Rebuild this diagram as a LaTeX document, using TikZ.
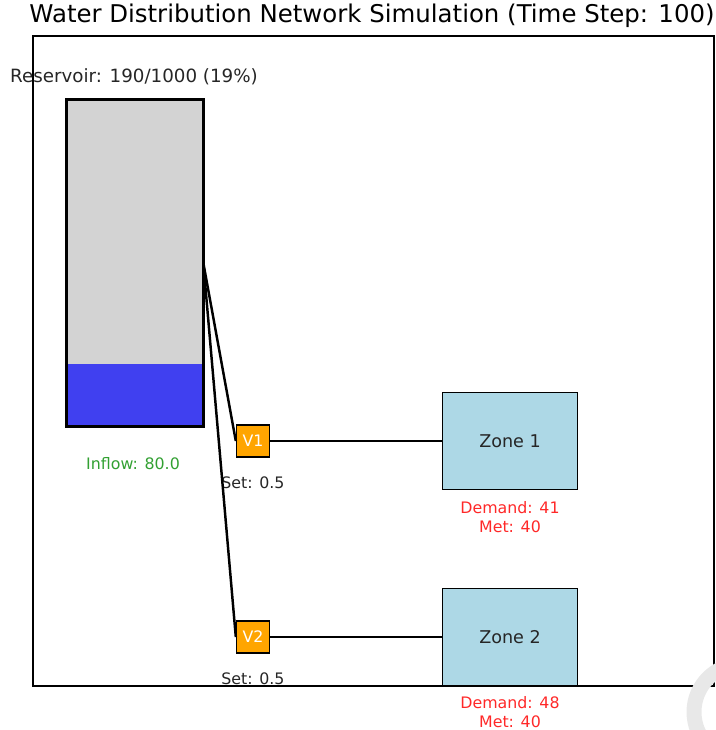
\documentclass[tikz,border=0pt]{standalone}
\usepackage{fontspec}
\setmainfont{DejaVu Sans}
\usetikzlibrary{positioning}

\definecolor{tankgray}{HTML}{D3D3D3}
\definecolor{waterblue}{RGB}{64,64,240}
\definecolor{valveorange}{HTML}{FFA500}
\definecolor{zoneblue}{HTML}{ADD8E6}
\definecolor{inflowgreen}{RGB}{50,160,50}
\definecolor{demandred}{RGB}{255,40,40}

\tikzset{
  pipe/.style={line width=1.4pt},
  valve/.style={draw, line width=0.8pt, fill=valveorange, text=white,
    minimum width=0.66cm, minimum height=0.64cm, inner sep=0pt, font=\small},
  zone/.style={draw, line width=0.9pt, fill=zoneblue, text=black!85,
    minimum width=2.7cm, minimum height=1.94cm, inner sep=0pt},
  info/.style={font=\small, text=black!85},
  demand/.style={font=\small, text=demandred, align=center, inner sep=0pt}
}

\begin{document}
\begin{tikzpicture}[x=0.02cm, y=-0.02cm]
\useasboundingbox (0,0) rectangle (716,730);

% title and frame
\node (title) at (372,16) {\fontsize{13.9}{16}\selectfont Water Distribution Network Simulation (Time Step: 100)};
\draw[line width=0.6pt] (33,36) rectangle (714,686);

% reservoir with its water level
\node[fill=tankgray, minimum width=2.72cm, minimum height=6.52cm, inner sep=0pt] (res) at (135,263) {};
\fill[waterblue] (res.south west) rectangle ([yshift=1.24cm]res.south east);
\draw[line width=1.9pt] (res.south west) rectangle (res.north east);
\node[text=black!85, font=\fontsize{10.4}{12}\selectfont] (reslabel) at (134,77) {Reservoir: 190/1000 (19\%)};
\node[font=\small, text=inflowgreen] (inflow) at (133,464) {Inflow: 80.0};

% valves
\node[valve] (v1) at (253,441) {V1};
\node[valve] (v2) at (253,637) {V2};
\node[info] (set1) at (253,483) {Set: 0.5};
\node[info] (set2) at (253,679) {Set: 0.5};

% demand zones
\node[zone] (z1) at (510,441) {Zone 1};
\node[zone] (z2) at (510,637) {Zone 2};
\node[demand] (d1) at (510,517) {Demand: 41\\Met: 40};
\node[demand] (d2) at (510,712) {Demand: 48\\Met: 40};

% pipes
\draw[pipe] (res.east) -- (v1.west);
\draw[pipe] (res.east) -- (v2.west);
\draw[pipe] (v1.east) -- (z1.west);
\draw[pipe] (v2.east) -- (z2.west);

% corner mark
\begin{scope}
\clip (0,0) rectangle (716,730);
\draw[black!9, line width=0.3cm] (742,712) circle[radius=48];
\end{scope}
\end{tikzpicture}
\end{document}
